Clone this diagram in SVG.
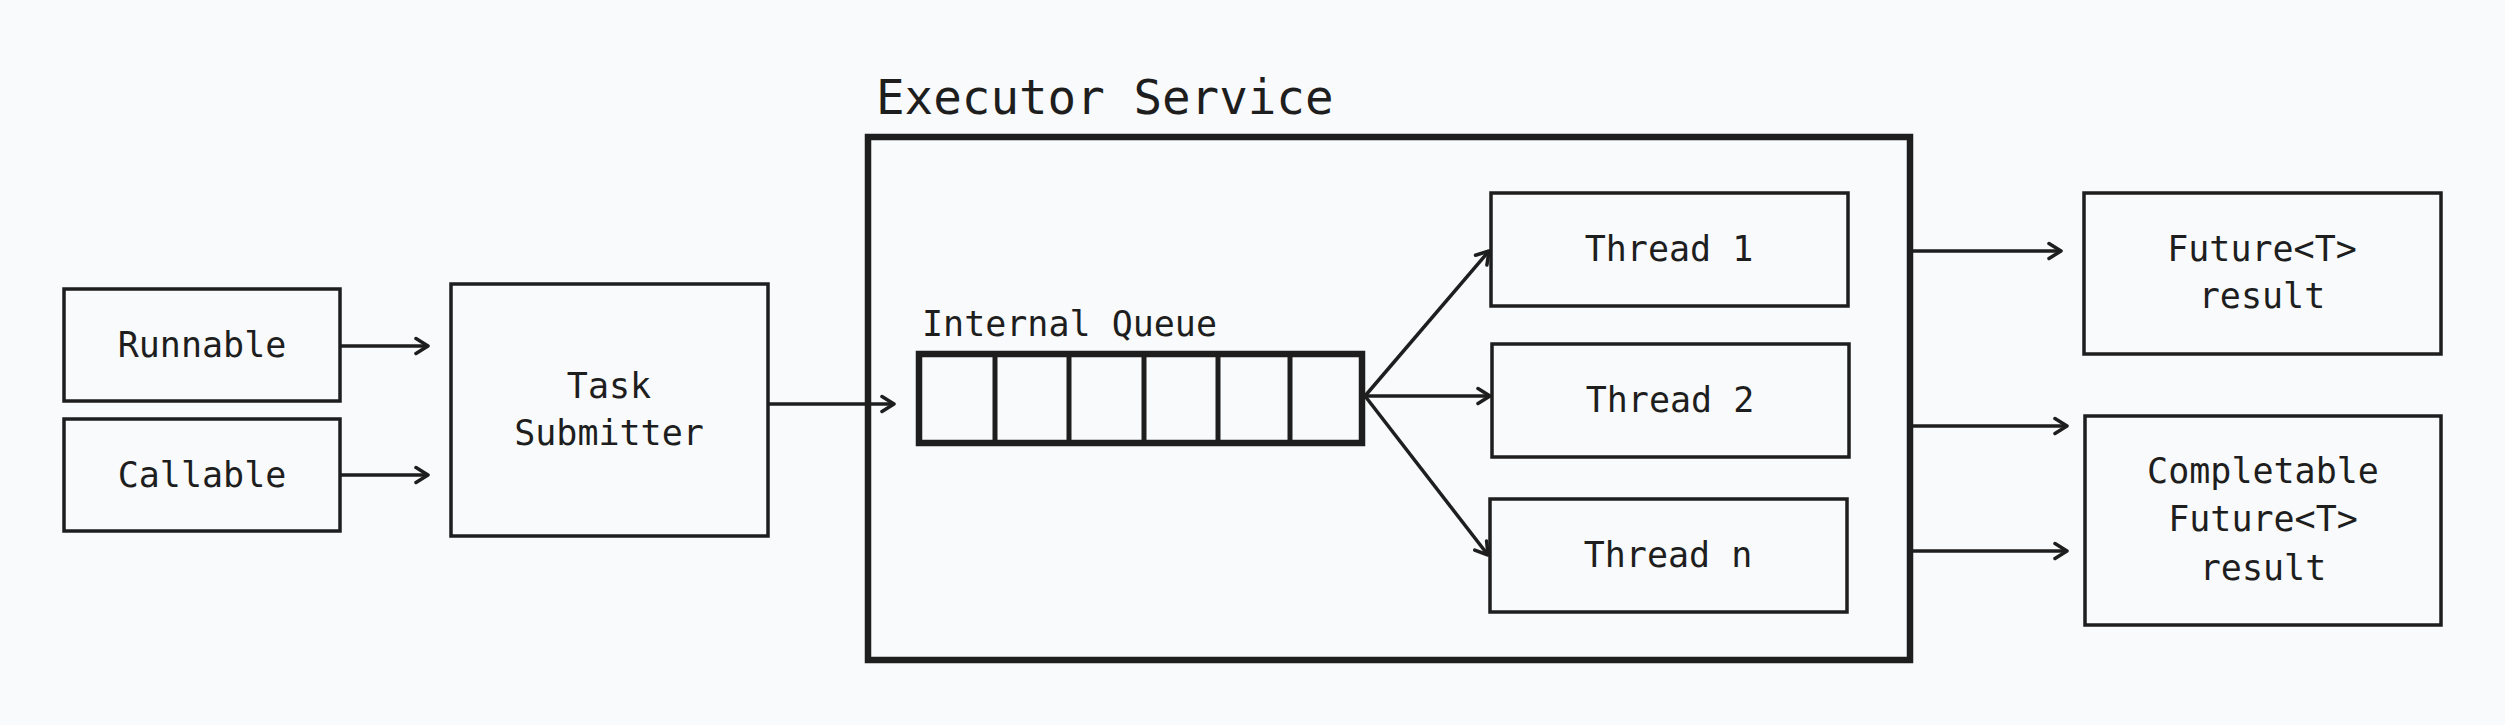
<svg xmlns="http://www.w3.org/2000/svg" width="2505" height="725" viewBox="0 0 2505 725">
  <style>
    .bg { fill: #f9fafb; }
    .box { fill: #f9fafb; stroke: #1e1e1e; stroke-width: 3.5; }
    .thick { fill: none; stroke: #1e1e1e; stroke-width: 6.5; }
    .qline { stroke: #1e1e1e; stroke-width: 5; }
    .lbl { font-family: "DejaVu Sans Mono", "Liberation Mono", monospace; font-size: 35px; fill: #1e1e1e; text-anchor: middle; }
    .title { font-family: "DejaVu Sans Mono", "Liberation Mono", monospace; font-size: 47.5px; fill: #1e1e1e; }
    .qlbl { font-family: "DejaVu Sans Mono", "Liberation Mono", monospace; font-size: 35px; fill: #1e1e1e; }
    .conn { fill: none; stroke: #1e1e1e; stroke-width: 3.5; marker-end: url(#arrow); }
  </style>
  <defs>
    <marker id="arrow" viewBox="-16 -10 18 20" refX="0" refY="0" markerWidth="18" markerHeight="20" markerUnits="userSpaceOnUse" orient="auto">
      <path d="M -12 -7.5 L 0 0 L -12 7.5" fill="none" stroke="#1e1e1e" stroke-width="3.5" stroke-linecap="round" stroke-linejoin="round"/>
    </marker>
  </defs>
  <rect class="bg" x="0" y="0" width="2505" height="725"/>

  <g id="executor-service">
    <text class="title" x="876" y="114">Executor Service</text>
    <rect class="thick" x="868" y="137" width="1042" height="523"/>
  </g>

  <g id="runnable">
    <rect class="box" x="64" y="289" width="276" height="112"/>
    <text class="lbl" x="202" y="357">Runnable</text>
  </g>
  <g id="callable">
    <rect class="box" x="64" y="419" width="276" height="112"/>
    <text class="lbl" x="202" y="487">Callable</text>
  </g>
  <g id="task-submitter">
    <rect class="box" x="451" y="284" width="317" height="252"/>
    <text class="lbl" x="609" y="398">Task</text>
    <text class="lbl" x="609" y="445">Submitter</text>
  </g>

  <g id="internal-queue">
    <text class="qlbl" x="922" y="336">Internal Queue</text>
    <rect class="thick" x="919" y="354" width="443" height="89"/>
    <line class="qline" x1="995" y1="354" x2="995" y2="443"/>
    <line class="qline" x1="1069" y1="354" x2="1069" y2="443"/>
    <line class="qline" x1="1144" y1="354" x2="1144" y2="443"/>
    <line class="qline" x1="1218" y1="354" x2="1218" y2="443"/>
    <line class="qline" x1="1290" y1="354" x2="1290" y2="443"/>
  </g>

  <g id="thread-1">
    <rect class="box" x="1491" y="193" width="357" height="113"/>
    <text class="lbl" x="1669" y="261">Thread 1</text>
  </g>
  <g id="thread-2">
    <rect class="box" x="1492" y="344" width="357" height="113"/>
    <text class="lbl" x="1670" y="412">Thread 2</text>
  </g>
  <g id="thread-n">
    <rect class="box" x="1490" y="499" width="357" height="113"/>
    <text class="lbl" x="1668" y="567">Thread n</text>
  </g>

  <g id="future-result">
    <rect class="box" x="2084" y="193" width="357" height="161"/>
    <text class="lbl" x="2262" y="261">Future&lt;T&gt;</text>
    <text class="lbl" x="2262" y="308">result</text>
  </g>
  <g id="completable-future-result">
    <rect class="box" x="2085" y="416" width="356" height="209"/>
    <text class="lbl" x="2263" y="483">Completable</text>
    <text class="lbl" x="2263" y="531">Future&lt;T&gt;</text>
    <text class="lbl" x="2263" y="580">result</text>
  </g>

  <g id="connectors">
    <line class="conn" x1="340" y1="346" x2="428" y2="346"/>
    <line class="conn" x1="340" y1="475" x2="428" y2="475"/>
    <line class="conn" x1="768" y1="404" x2="894" y2="404"/>
    <line class="conn" x1="1365" y1="396" x2="1489" y2="251"/>
    <line class="conn" x1="1365" y1="396" x2="1490" y2="396"/>
    <line class="conn" x1="1365" y1="396" x2="1488" y2="555"/>
    <line class="conn" x1="1913" y1="251" x2="2061" y2="251"/>
    <line class="conn" x1="1913" y1="426" x2="2067" y2="426"/>
    <line class="conn" x1="1913" y1="551" x2="2067" y2="551"/>
  </g>
</svg>
